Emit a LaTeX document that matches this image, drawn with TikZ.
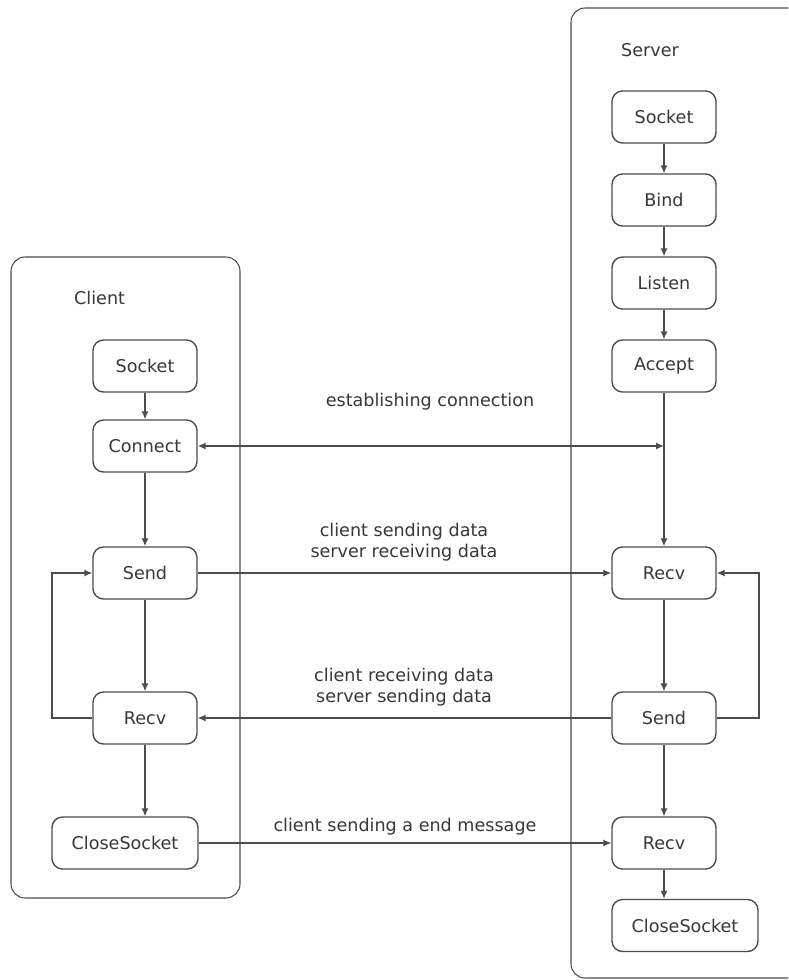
\documentclass[tikz,border=0pt]{standalone}
\usepackage{fontspec}
\setmainfont{DejaVu Sans}
\usepackage{tikz}
\usetikzlibrary{calc,positioning,arrows.meta}
\definecolor{linegray}{rgb}{0.3,0.3,0.3}
\definecolor{textgray}{rgb}{0.22,0.22,0.22}
\tikzset{
	callbox/.style={draw=linegray,line width=0.8pt,rounded corners=6pt,minimum width=2.08cm,minimum height=1.04cm,text=textgray,font=\fontsize{10}{12}\selectfont},
	widebox/.style={callbox,minimum width=2.92cm},
	flow/.style={draw=linegray,line width=0.8pt,-{Latex[length=4.5pt,width=4pt]}},
	msg/.style={text=textgray,font=\fontsize{10}{12}\selectfont,align=center},
}
\begin{document}
\begin{tikzpicture}
		\clip (0,0) rectangle (15.76,-19.6);
		\fill[white] (0,0) rectangle (15.76,-19.6);
		
		% frames
		\draw[linegray,line width=0.6pt,rounded corners=8pt] (0.22,-5.14) rectangle (4.8,-17.96);
		\draw[linegray,line width=0.6pt,rounded corners=8pt] (11.42,-0.16) rectangle (17.5,-19.56);
		\node[msg,anchor=west] (clientlbl) at (1.36,-5.96) {Client};
		\node[msg,anchor=west] (serverlbl) at (12.3,-1.0) {Server};
		
		% client side
		\node[callbox] (cSocket) at (2.9,-7.32) {Socket};
		\node[callbox] (cConnect) at (2.9,-8.92) {Connect};
		\node[callbox] (cSend) at (2.9,-11.46) {Send};
		\node[callbox] (cRecv) at (2.9,-14.36) {Recv};
		\node[widebox] (cClose) at (2.5,-16.86) {CloseSocket};
		
		% server side
		\node[callbox] (sSocket) at (13.28,-2.34) {Socket};
		\node[callbox] (sBind) at (13.28,-4.0) {Bind};
		\node[callbox] (sListen) at (13.28,-5.66) {Listen};
		\node[callbox] (sAccept) at (13.28,-7.32) {Accept};
		\node[callbox] (sRecv) at (13.28,-11.46) {Recv};
		\node[callbox] (sSend) at (13.28,-14.36) {Send};
		\node[callbox] (sRecvEnd) at (13.28,-16.86) {Recv};
		\node[widebox] (sClose) at (13.7,-18.51) {CloseSocket};
		
		\coordinate (join) at (sAccept |- cConnect);
		\coordinate (cLoop) at (1.04,0);
		\coordinate (sLoop) at (15.18,0);
		
		% client flow
		\draw[flow] (cSocket) -- (cConnect);
		\draw[flow] (cConnect) -- (cSend);
		\draw[flow] (cSend) -- (cRecv);
		\draw[flow] (cRecv.south) -- (cRecv.south |- cClose.north);
		\draw[flow] (cRecv.west) -- (cLoop |- cRecv) -- (cLoop |- cSend) -- (cSend.west);
		
		% server flow
		\draw[flow] (sSocket) -- (sBind);
		\draw[flow] (sBind) -- (sListen);
		\draw[flow] (sListen) -- (sAccept);
		\draw[flow,-] (sAccept) -- (join);
		\draw[flow] (join) -- (sRecv);
		\draw[flow] (sRecv) -- (sSend);
		\draw[flow] (sSend) -- (sRecvEnd);
		\draw[flow] (sRecvEnd.south) -- (sRecvEnd.south |- sClose.north);
		\draw[flow] (sSend.east) -- (sLoop |- sSend) -- (sLoop |- sRecv) -- (sRecv.east);
		
		% messages
		\draw[flow,{Latex[length=4.5pt,width=4pt]}-{Latex[length=4.5pt,width=4pt]}] (cConnect.east) -- (join);
		\draw[flow] (cSend) -- (sRecv);
		\draw[flow] (sSend) -- (cRecv);
		\draw[flow] (cClose) -- (sRecvEnd);
		
		\node[msg] (msgconn) at (8.6,-8.04) {establishing connection};
		\node[msg] (msgsend) at (8.08,-10.85) {client sending data\\server receiving data};
		\node[msg] (msgrecv) at (8.08,-13.74) {client receiving data\\server sending data};
		\node[msg] (msgend) at (8.1,-16.54) {client sending a end message};
	\end{tikzpicture}
\end{document}
